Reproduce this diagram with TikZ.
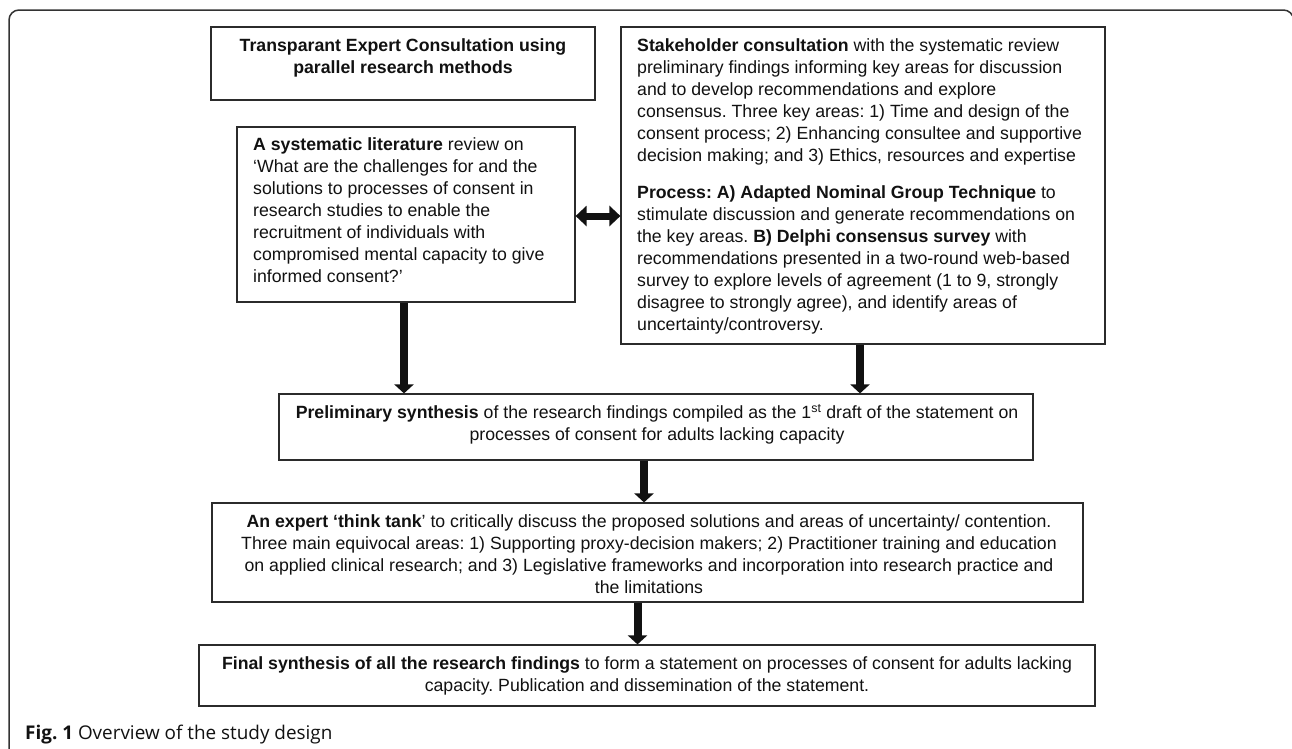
\documentclass[tikz,border=0pt]{standalone}
\usepackage{fontspec}
\setmainfont{Liberation Sans}
\newfontfamily\capfont{Open Sans}
\usetikzlibrary{arrows.meta}
\definecolor{frameg}{HTML}{333333}
\definecolor{boxg}{HTML}{2B2B2B}
\definecolor{txtg}{HTML}{111111}
\frenchspacing
\tikzset{
  box/.style={draw=boxg, line width=1.2pt, inner sep=0pt, rectangle},
  txt/.style={inner sep=0pt, text=txtg, font=\fontsize{17.7}{22}\selectfont},
  varrow/.style={draw=txtg, line width=8pt, -{Triangle[width=19pt,length=9pt]}},
  darrow/.style={draw=txtg, line width=7pt, {Triangle[width=20pt,length=11pt]}-{Triangle[width=20pt,length=11pt]}},
}
\begin{document}
\begin{tikzpicture}[x=1pt,y=-1pt]
\useasboundingbox (0,0) rectangle (1292,748);
% outer frame
\draw[frameg, line width=1.5pt, rounded corners=10pt] (9,760) -- (9,10) -- (1293.5,10) -- (1293.5,80);

% boxes
\node[box, minimum width=384pt, minimum height=73pt] (title) at (403,63.5) {};
\node[box, minimum width=338pt, minimum height=175pt] (sys) at (406,214.5) {};
\node[box, minimum width=484pt, minimum height=317pt] (stake) at (863,185.5) {};
\node[box, minimum width=754pt, minimum height=66pt] (prelim) at (656,427) {};
\node[box, minimum width=871pt, minimum height=99pt] (think) at (647.5,552.5) {};
\node[box, minimum width=896pt, minimum height=61pt] (final) at (647,675.5) {};

% texts
\node[txt, anchor=north, align=center] (titletext) at (403,36)
 {\strut\textbf{Transparant Expert Consultation using}\\\textbf{parallel research methods}};

\node[txt, anchor=north west, align=left] (systext) at (253,135)
 {\strut\textbf{A systematic literature} review on\\
  ‘What are the challenges for and the\\
  solutions to processes of consent in\\
  research studies to enable the\\
  recruitment of individuals with\\
  compromised mental capacity to give\\
  informed consent?’};

\node[txt, anchor=north west, align=left] (staketext) at (637,36)
 {\strut\textbf{Stakeholder consultation} with the systematic review\\
  preliminary findings informing key areas for discussion\\
  and to develop recommendations and explore\\
  consensus. Three key areas: 1) Time and design of the\\
  consent process; 2) Enhancing consultee and supportive\\
  decision making; and 3) Ethics, resources and expertise\\[15pt]
  \textbf{Process: A) Adapted Nominal Group Technique} to\\
  stimulate discussion and generate recommendations on\\
  the key areas. \textbf{B) Delphi consensus survey} with\\
  recommendations presented in a two-round web-based\\
  survey to explore levels of agreement (1 to 9, strongly\\
  disagree to strongly agree), and identify areas of\\
  uncertainty/controversy.};

\node[txt, anchor=north, align=center] (prelimtext) at (657,403)
 {\strut\textbf{Preliminary synthesis} of the research findings compiled as the 1\textsuperscript{st} draft of the statement on\\
  processes of consent for adults lacking capacity};

\node[txt, anchor=north, align=center] (thinktext) at (649,512)
 {\strut\textbf{An expert ‘think tank}’ to critically discuss the proposed solutions and areas of uncertainty/ contention.\\
  Three main equivocal areas: 1) Supporting proxy-decision makers; 2) Practitioner training and education\\
  on applied clinical research; and 3) Legislative frameworks and incorporation into research practice and\\
  the limitations};

\node[txt, anchor=north, align=center] (finaltext) at (647,654)
 {\strut\textbf{Final synthesis of all the research findings} to form a statement on processes of consent for adults lacking\\
  capacity. Publication and dissemination of the statement.};

% caption
\node[anchor=base west, inner sep=0pt, text=txtg] (cap) at (25,739)
 {\capfont\fontsize{18.9}{20}\selectfont\textbf{Fig. 1} Overview of the study design};

% connectors
\draw[darrow] (sys.east |- 0,216) -- (stake.west |- 0,216);
\draw[varrow] ([xshift=-2pt]sys.south) -- ([xshift=-2pt]sys.south |- prelim.north);
\draw[varrow] ([xshift=-3pt]stake.south) -- ([xshift=-3pt]stake.south |- prelim.north);
\draw[varrow] ([xshift=-12pt]prelim.south) -- ([xshift=-12pt]prelim.south |- think.north);
\draw[varrow] ([xshift=-10pt]think.south) -- ([xshift=-10pt]think.south |- final.north);
\end{tikzpicture}
\end{document}
